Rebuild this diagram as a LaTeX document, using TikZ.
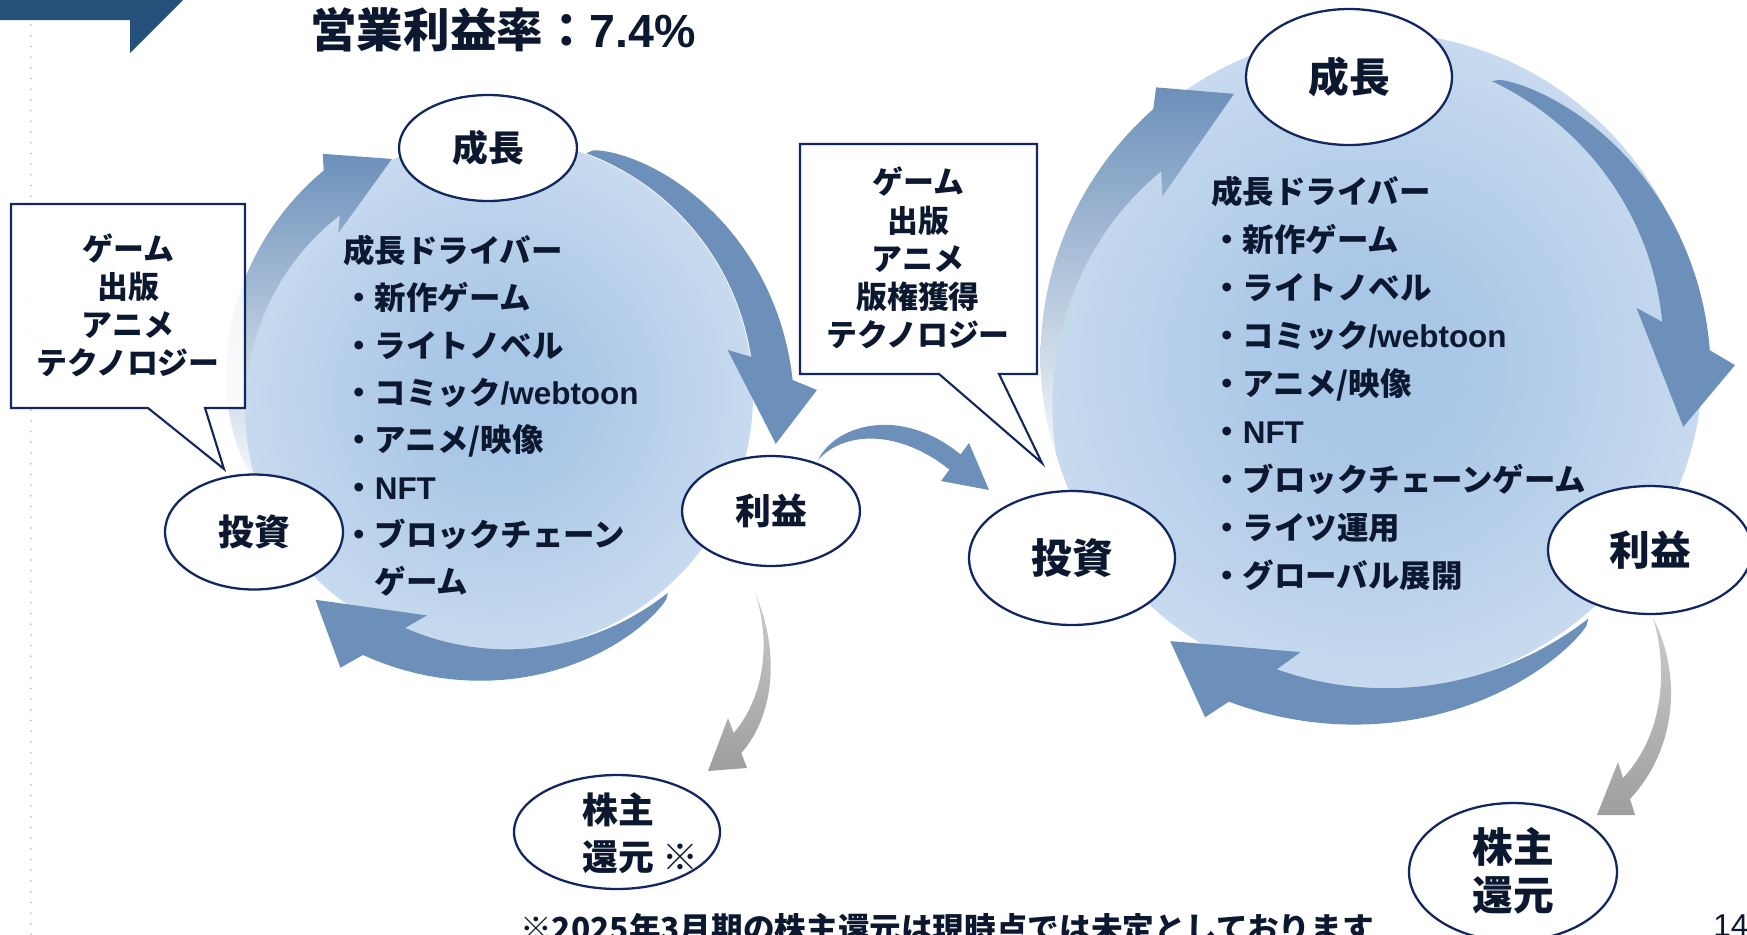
\documentclass[tikz,border=0pt]{standalone}
\usepackage{fontspec}
\setmainfont{Noto Sans CJK JP}
\newfontfamily\lat{Liberation Sans}[BoldFont={Liberation Sans Bold}]
\usetikzlibrary{shapes.geometric}
\definecolor{navy}{RGB}{18,38,96}
\definecolor{ink}{RGB}{12,24,48}
\definecolor{arrowblue}{RGB}{108,144,186}
\definecolor{banner}{RGB}{36,80,122}
\definecolor{dotgray}{RGB}{200,200,200}
\definecolor{cin}{RGB}{168,198,230}
\definecolor{cmid}{RGB}{204,221,240}
\definecolor{cedge}{RGB}{226,235,246}
\definecolor{cout}{RGB}{242,246,251}
\pgfdeclareradialshading{cycshade}{\pgfpoint{0bp}{0bp}}{color(0bp)=(cin); color(6bp)=(cin); color(28bp)=(cmid); color(44bp)=(cedge); color(50bp)=(cout)}
\newcommand\cycset[7]{\def\cX{#1}\def\cY{#2}\def\aT{#3}\def\rIT{#4}\def\aI{#5}\def\rIH{#6}\def\aO{#7}}
\newcommand\cycsetb[7]{\def\rOH{#1}\def\aBI{#2}\def\rBI{#3}\def\aTip{#4}\def\rTip{#5}\def\aBO{#6}\def\rBO{#7}}
\newcommand\cycpath{%
 plot[domain=\aT:\aI,samples=60] ({\cX+(\rIT+(\rIH-\rIT)*((\x)-(\aT))/((\aI)-(\aT)))*cos(\x)},{\cY+(\rIT+(\rIH-\rIT)*((\x)-(\aT))/((\aI)-(\aT)))*sin(\x)})
 -- ({\cX+\rBI*cos(\aBI)},{\cY+\rBI*sin(\aBI)})
 -- ({\cX+\rTip*cos(\aTip)},{\cY+\rTip*sin(\aTip)})
 -- ({\cX+\rBO*cos(\aBO)},{\cY+\rBO*sin(\aBO)})
 -- plot[domain=\aO:\aT,samples=60] ({\cX+(\rIT+(\rOH-\rIT)*sqrt(abs(((\x)-(\aT))/((\aO)-(\aT)))))*cos(\x)},{\cY+(\rIT+(\rOH-\rIT)*sqrt(abs(((\x)-(\aT))/((\aO)-(\aT)))))*sin(\x)})
 -- cycle}
\tikzset{
 oval/.style={ellipse, draw=navy, line width=1.3pt, fill=white, inner sep=0pt},
 lblS/.style={text=ink, font=\fontsize{20.4}{26.6}\selectfont\bfseries, inner sep=0pt},
 lblB/.style={text=ink, font=\fontsize{23.2}{27.2}\selectfont\bfseries, inner sep=0pt},
 listtxt/.style={text=ink, font=\fontsize{17.9}{21}\selectfont\bfseries, anchor=base west, inner sep=0pt},
 callout/.style={draw=navy, line width=1.2pt, fill=white, fill opacity=0.88},
 calltxt/.style={text=ink, font=\fontsize{17.6}{21.7}\selectfont\bfseries, align=center, inner sep=0pt},
 cycarrow/.style={fill=arrowblue},
 fadearrow/.style={top color=arrowblue, middle color=arrowblue!70!white, bottom color=arrowblue!8!white},
 grayarrow/.style={top color=black!20, bottom color=black!38},
}
\begin{document}
\begin{tikzpicture}[x=0.02cm, y=0.02cm]
\path[use as bounding box, clip] (0,0) rectangle (1747,-934);
% banner and dotted rule
\fill[banner] (0,0) -- (183,0) -- (130,-53) -- (130,-20) -- (0,-20) -- cycle;
\foreach \i in {0,...,85} \fill[dotgray] (31,{-25-10.7*\i}) circle[radius=1.1];
% background circles
\shade[shading=cycshade] (496,-395) circle[radius=257];
\shade[shading=cycshade] (1373,-362) circle[radius=330];
% left cycle arrows
\cycset{496}{-395}{198}{255}{131}{238}{127.5}\cycsetb{283}{134.3}{226}{113.8}{258}{125.7}{297}
\shade[fadearrow] \cycpath;
\cycset{496}{-395}{69.5}{258}{8.5}{258}{2.9}\cycsetb{297}{11}{236}{-9.9}{284}{0.9}{321}
\fill[cycarrow] \cycpath;
\cycset{496}{-395}{-49}{262}{-111.3}{250}{-117.1}\cycsetb{292}{-107.4}{231}{-131.4}{273}{-119.7}{314}
\fill[cycarrow] \cycpath;
% right cycle arrows
\cycset{1373}{-362}{196}{330}{138}{285}{131}\cycsetb{335}{141.8}{268}{117.4}{302}{128.3}{350}
\shade[fadearrow] \cycpath;
\cycset{1373}{-362}{67}{305}{7.9}{292}{2.0}\cycsetb{337}{11.6}{269}{-11.8}{317}{-0.5}{362}
\fill[cycarrow] \cycpath;
\cycset{1373}{-362}{-50}{335}{-107.4}{322}{-113}\cycsetb{369}{-104}{299}{-126}{345}{-115.3}{393}
\fill[cycarrow] \cycpath;
% connector arrows
\fill[cycarrow] (818,-460) .. controls (835,-425) and (900,-405) .. (960.6,-454.4) -- (969,-443) -- (989,-490) -- (941,-481) -- (949.4,-469.6) .. controls (900,-430) and (845,-430) .. (818,-460) -- cycle;
\shade[grayarrow] (755,-593) .. controls (768,-630) and (770,-690) .. (733.7,-733) -- (728,-718) -- (708,-771) -- (747,-768) -- (741.3,-753) .. controls (775,-715) and (780,-650) .. (755,-593) -- cycle;
\shade[grayarrow] (1653,-618) .. controls (1666,-660) and (1668,-730) .. (1623,-778) -- (1618,-762) -- (1597,-815) -- (1635,-815) -- (1630,-799) .. controls (1680,-745) and (1680,-670) .. (1653,-618) -- cycle;
% callouts
\draw[callout] (11,-204) -- (245,-204) -- (245,-408) -- (205,-408) -- (224,-469) -- (148,-408) -- (11,-408) -- cycle;
\node[calltxt] (Lcall) at (128,-305.5) {ゲーム\\出版\\アニメ\\テクノロジー};
\draw[callout] (800,-144) -- (1037,-144) -- (1037,-374) -- (999,-374) -- (1042,-463) -- (939,-374) -- (800,-374) -- cycle;
\node[calltxt] (Rcall) at (918,-258) {ゲーム\\出版\\アニメ\\版権獲得\\テクノロジー};
% left ellipses
\node[oval, minimum width=3.56cm, minimum height=2.12cm] (Lgrow) at (488,-148) {};
\node[lblS] at (Lgrow) {成長};
\node[oval, minimum width=3.56cm, minimum height=2.3cm] (Linv) at (254,-532) {};
\node[lblS] at (Linv) {投資};
\node[oval, minimum width=3.56cm, minimum height=2.2cm] (Lprof) at (771,-511) {};
\node[lblS] at (Lprof) {利益};
\node[oval, minimum width=4.12cm, minimum height=2.28cm] (Lret) at (617,-832) {};
\node[lblS, align=left, anchor=west] at (582,-833) {株主\\還元 ※};
% right ellipses
\node[oval, minimum width=4.12cm, minimum height=2.72cm] (Rgrow) at (1349,-77) {};
\node[lblB] at (Rgrow) {成長};
\node[oval, minimum width=4.12cm, minimum height=2.68cm] (Rinv) at (1072,-558) {};
\node[lblB] at (Rinv) {投資};
\node[oval, minimum width=4.08cm, minimum height=2.56cm] (Rprof) at (1650,-550) {};
\node[lblB] at (Rprof) {利益};
\node[oval, minimum width=4.16cm, minimum height=2.76cm] (Rret) at (1513,-872) {};
\node[lblB, align=center] at (1513,-871) {株主\\還元};
% growth driver lists
\foreach \t [count=\i from 0] in {成長ドライバー, ・新作ゲーム, ・ライトノベル, ・コミック{\lat /webtoon}, ・アニメ/映像, ・{\lat NFT}, ・ブロックチェーン, \hspace*{1em}ゲーム}
  \node[listtxt] at (343,{-262.5-47.3*\i}) {\t};
\foreach \t [count=\i from 0] in {成長ドライバー, ・新作ゲーム, ・ライトノベル, ・コミック{\lat /webtoon}, ・アニメ/映像, ・{\lat NFT}, ・ブロックチェーンゲーム, ・ライツ運用, ・グローバル展開}
  \node[listtxt] at (1211,{-203.5-48*\i}) {\t};
% title, footnote, page number
\node[text=ink, font=\fontsize{26.5}{30}\selectfont\bfseries, anchor=base west, inner sep=0pt] (title) at (310,-47) {営業利益率：{\lat 7.4\%}};
\node[text=ink, font=\fontsize{18}{22}\selectfont\bfseries, anchor=base west, inner sep=0pt] (note) at (520,-940) {※2025年3月期の株主還元は現時点では未定としております};
\node[text=ink, font=\fontsize{18}{22}\selectfont\lat, anchor=base west, inner sep=0pt] (page) at (1713,-936) {14};
\end{tikzpicture}
\end{document}
